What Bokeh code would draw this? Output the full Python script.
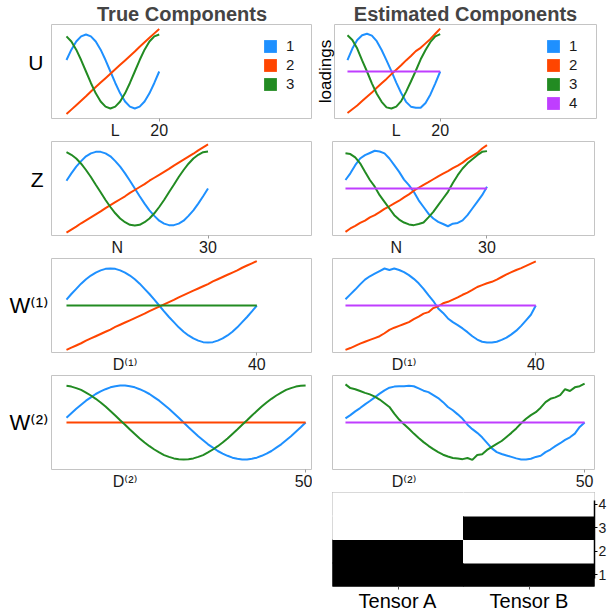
from bokeh.plotting import figure
from bokeh.layouts import column, row
from bokeh.models import (Range1d, FixedTicker, Legend, LegendItem,
                          ColumnDataSource, Spacer, FactorRange)
from bokeh.core.properties import value
from bokeh.embed import file_html
from bokeh.resources import INLINE

# ---------------- data ----------------
L_idx = list(range(1, 21))
N_idx = list(range(1, 31))
D1_idx = list(range(1, 41))
D2_idx = list(range(1, 51))

U_true_1 = [0.31, 0.59, 0.81, 0.95, 1.00, 0.95, 0.81, 0.59, 0.31, 0.00, -0.31, -0.59, -0.81, -0.95, -1.00, -0.95, -0.81, -0.59, -0.31, 0.00]
U_true_2 = [-1.15, -1.03, -0.91, -0.79, -0.67, -0.54, -0.42, -0.30, -0.18, -0.06, 0.06, 0.18, 0.30, 0.42, 0.54, 0.67, 0.79, 0.91, 1.03, 1.15]
U_true_3 = [0.95, 0.81, 0.59, 0.31, 0.00, -0.31, -0.59, -0.81, -0.95, -1.00, -0.95, -0.81, -0.59, -0.31, 0.00, 0.31, 0.59, 0.81, 0.95, 1.00]

Z_true_1 = [0.21, 0.41, 0.59, 0.74, 0.87, 0.95, 0.99, 0.99, 0.95, 0.87, 0.74, 0.59, 0.41, 0.21, 0.00, -0.21, -0.41, -0.59, -0.74, -0.87, -0.95, -0.99, -0.99, -0.95, -0.87, -0.74, -0.59, -0.41, -0.21, 0.00]
Z_true_2 = [-1.19, -1.11, -1.03, -0.94, -0.86, -0.78, -0.70, -0.62, -0.53, -0.45, -0.37, -0.29, -0.21, -0.12, -0.04, 0.04, 0.12, 0.21, 0.29, 0.37, 0.45, 0.53, 0.62, 0.70, 0.78, 0.86, 0.94, 1.03, 1.11, 1.19]
Z_true_3 = [0.98, 0.91, 0.81, 0.67, 0.50, 0.31, 0.10, -0.10, -0.31, -0.50, -0.67, -0.81, -0.91, -0.98, -1.00, -0.98, -0.91, -0.81, -0.67, -0.50, -0.31, -0.10, 0.10, 0.31, 0.50, 0.67, 0.81, 0.91, 0.98, 1.00]

W1_true_1 = [0.16, 0.31, 0.45, 0.59, 0.71, 0.81, 0.89, 0.95, 0.99, 1.00, 0.99, 0.95, 0.89, 0.81, 0.71, 0.59, 0.45, 0.31, 0.16, 0.00,
             -0.16, -0.31, -0.45, -0.59, -0.71, -0.81, -0.89, -0.95, -0.99, -1.00, -0.99, -0.95, -0.89, -0.81, -0.71, -0.59, -0.45, -0.31, -0.16, 0.00]
W1_true_2 = [-1.20, -1.14, -1.08, -1.02, -0.95, -0.89, -0.83, -0.77, -0.71, -0.65, -0.58, -0.52, -0.46, -0.40, -0.34, -0.28, -0.22, -0.15, -0.09, -0.03,
             0.03, 0.09, 0.15, 0.22, 0.28, 0.34, 0.40, 0.46, 0.52, 0.58, 0.65, 0.71, 0.77, 0.83, 0.89, 0.95, 1.02, 1.08, 1.14, 1.20]
W1_true_3 = [0.0, 0.0, 0.0, 0.0, 0.0, 0.0, 0.0, 0.0, 0.0, 0.0, 0.0, 0.0, 0.0, 0.0, 0.0, 0.0, 0.0, 0.0, 0.0, 0.0,
             0.0, 0.0, 0.0, 0.0, 0.0, 0.0, 0.0, 0.0, 0.0, 0.0, 0.0, 0.0, 0.0, 0.0, 0.0, 0.0, 0.0, 0.0, 0.0, 0.0]

W2_true_1 = [0.13, 0.25, 0.37, 0.48, 0.59, 0.68, 0.77, 0.84, 0.90, 0.95, 0.98, 1.00, 1.00, 0.98, 0.95, 0.90, 0.84, 0.77, 0.68, 0.59, 0.48, 0.37, 0.25, 0.13, 0.00,
             -0.13, -0.25, -0.37, -0.48, -0.59, -0.68, -0.77, -0.84, -0.90, -0.95, -0.98, -1.00, -1.00, -0.98, -0.95, -0.90, -0.84, -0.77, -0.68, -0.59, -0.48, -0.37, -0.25, -0.13, 0.00]
W2_true_2 = [0.0, 0.0, 0.0, 0.0, 0.0, 0.0, 0.0, 0.0, 0.0, 0.0, 0.0, 0.0, 0.0, 0.0, 0.0, 0.0, 0.0, 0.0, 0.0, 0.0, 0.0, 0.0, 0.0, 0.0, 0.0,
             0.0, 0.0, 0.0, 0.0, 0.0, 0.0, 0.0, 0.0, 0.0, 0.0, 0.0, 0.0, 0.0, 0.0, 0.0, 0.0, 0.0, 0.0, 0.0, 0.0, 0.0, 0.0, 0.0, 0.0, 0.0]
W2_true_3 = [0.99, 0.97, 0.93, 0.88, 0.81, 0.73, 0.64, 0.54, 0.43, 0.31, 0.19, 0.06, -0.06, -0.19, -0.31, -0.43, -0.54, -0.64, -0.73, -0.81, -0.88, -0.93, -0.97, -0.99, -1.00,
             -0.99, -0.97, -0.93, -0.88, -0.81, -0.73, -0.64, -0.54, -0.43, -0.31, -0.19, -0.06, 0.06, 0.19, 0.31, 0.43, 0.54, 0.64, 0.73, 0.81, 0.88, 0.93, 0.97, 0.99, 1.00]

U_est_1 = [0.31, 0.62, 0.85, 0.98, 1.02, 0.97, 0.82, 0.58, 0.30, 0.01, -0.30, -0.58, -0.82, -0.95, -0.98, -0.98, -0.85, -0.62, -0.32, 0.00]
U_est_2 = [-1.12, -1.02, -0.92, -0.80, -0.68, -0.57, -0.44, -0.32, -0.20, -0.07, 0.05, 0.17, 0.30, 0.42, 0.55, 0.64, 0.76, 0.88, 1.02, 1.16]
U_est_3 = [0.98, 0.85, 0.62, 0.30, 0.00, -0.32, -0.60, -0.82, -0.97, -1.00, -0.95, -0.80, -0.55, -0.27, 0.02, 0.33, 0.58, 0.80, 0.95, 1.01]
U_est_4 = [0.0, 0.0, 0.0, 0.0, 0.0, 0.0, 0.0, 0.0, 0.0, 0.0, 0.0, 0.0, 0.0, 0.0, 0.0, 0.0, 0.0, 0.0, 0.0, 0.0]

Z_est_1 = [0.23, 0.41, 0.63, 0.81, 0.90, 0.96, 1.02, 1.00, 0.95, 0.81, 0.63, 0.45, 0.24, 0.09, -0.09, -0.32, -0.50, -0.68, -0.81, -0.90, -0.96, -1.02, -0.95, -0.93, -0.86, -0.72, -0.54, -0.36, -0.18, 0.05]
Z_est_2 = [-1.17, -1.08, -1.01, -0.93, -0.87, -0.78, -0.72, -0.64, -0.55, -0.48, -0.40, -0.33, -0.24, -0.16, -0.06, 0.02, 0.10, 0.17, 0.25, 0.33, 0.40, 0.47, 0.55, 0.62, 0.70, 0.80, 0.88, 0.96, 1.08, 1.17]
Z_est_3 = [0.95, 0.93, 0.84, 0.68, 0.45, 0.23, 0.05, -0.18, -0.36, -0.54, -0.72, -0.84, -0.92, -0.97, -0.99, -0.96, -0.92, -0.78, -0.63, -0.45, -0.27, -0.09, 0.15, 0.36, 0.54, 0.68, 0.79, 0.90, 0.99, 1.01]
Z_est_4 = [0.0, 0.0, 0.0, 0.0, 0.0, 0.0, 0.0, 0.0, 0.0, 0.0, 0.0, 0.0, 0.0, 0.0, 0.0, 0.0, 0.0, 0.0, 0.0, 0.0, 0.0, 0.0, 0.0, 0.0, 0.0, 0.0, 0.0, 0.0, 0.0, 0.0]

W1_est_1 = [0.17, 0.30, 0.43, 0.57, 0.70, 0.79, 0.86, 0.93, 1.00, 0.96, 1.00, 0.96, 0.90, 0.82, 0.72, 0.60, 0.45, 0.28, 0.12, -0.08,
            -0.20, -0.35, -0.45, -0.53, -0.62, -0.72, -0.83, -0.92, -0.98, -1.00, -1.00, -0.98, -0.93, -0.87, -0.78, -0.68, -0.55, -0.40, -0.25, 0.00]
W1_est_2 = [-1.20, -1.15, -1.09, -1.03, -0.98, -0.93, -0.88, -0.83, -0.75, -0.66, -0.60, -0.55, -0.50, -0.45, -0.37, -0.30, -0.22, -0.18, -0.07, -0.02,
            0.06, 0.10, 0.16, 0.22, 0.29, 0.35, 0.42, 0.50, 0.55, 0.60, 0.64, 0.70, 0.77, 0.84, 0.90, 0.96, 1.01, 1.07, 1.13, 1.19]
W1_est_4 = [0.0, 0.0, 0.0, 0.0, 0.0, 0.0, 0.0, 0.0, 0.0, 0.0, 0.0, 0.0, 0.0, 0.0, 0.0, 0.0, 0.0, 0.0, 0.0, 0.0,
            0.0, 0.0, 0.0, 0.0, 0.0, 0.0, 0.0, 0.0, 0.0, 0.0, 0.0, 0.0, 0.0, 0.0, 0.0, 0.0, 0.0, 0.0, 0.0, 0.0]

W2_est_1 = [0.11, 0.20, 0.30, 0.39, 0.49, 0.58, 0.68, 0.78, 0.87, 0.94, 0.97, 0.98, 0.98, 0.99, 0.98, 0.92, 0.86, 0.82, 0.74, 0.66, 0.55, 0.42, 0.33, 0.22, 0.10,
            -0.06, -0.18, -0.28, -0.40, -0.55, -0.70, -0.80, -0.85, -0.89, -0.93, -0.97, -1.00, -1.00, -0.98, -0.93, -0.90, -0.80, -0.73, -0.64, -0.56, -0.47, -0.40, -0.30, -0.12, 0.00]
W2_est_3 = [1.03, 0.93, 0.90, 0.85, 0.80, 0.76, 0.70, 0.62, 0.52, 0.42, 0.24, 0.08, -0.05, -0.17, -0.30, -0.42, -0.53, -0.63, -0.72, -0.80, -0.87, -0.92, -0.96, -0.97, -0.99,
            -0.96, -1.01, -0.88, -0.86, -0.74, -0.66, -0.58, -0.50, -0.39, -0.28, -0.16, -0.02, 0.10, 0.20, 0.28, 0.40, 0.55, 0.64, 0.68, 0.74, 0.90, 0.85, 0.95, 0.98, 1.05]
W2_est_4 = [0.0, 0.0, 0.0, 0.0, 0.0, 0.0, 0.0, 0.0, 0.0, 0.0, 0.0, 0.0, 0.0, 0.0, 0.0, 0.0, 0.0, 0.0, 0.0, 0.0, 0.0, 0.0, 0.0, 0.0, 0.0,
            0.0, 0.0, 0.0, 0.0, 0.0, 0.0, 0.0, 0.0, 0.0, 0.0, 0.0, 0.0, 0.0, 0.0, 0.0, 0.0, 0.0, 0.0, 0.0, 0.0, 0.0, 0.0, 0.0, 0.0, 0.0]

tensors = ["Tensor A", "Tensor B"]
components = [1, 2, 3, 4]
tensor_A_member = [1, 1, 0, 0]
tensor_B_member = [1, 0, 1, 0]

legend_true = ["1", "2", "3"]
legend_est = ["1", "2", "3", "4"]

titles = ["True Components", "Estimated Components"]
row_labels = ["U\n ", "Z\n ", "W\u207d\u00b9\u207e", "W\u207d\u00b2\u207e"]
dim_labels = ["L", "N", "D\u207d\u00b9\u207e", "D\u207d\u00b2\u207e"]
dim_sizes = [20, 30, 40, 50]
dim_label_pos = [11, 11.4, 13, 13]

# ---------------- style ----------------
FONT = "Liberation Sans, DejaVu Sans"
C1, C2, C3, C4 = "#1E90FF", "#FF4500", "#228B22", "#BF3EFF"
OUTLINE = "#c4c4c4"
NAN = float("nan")


def panel(left_col, top, k):
    common = dict(frame_height=94, toolbar_location=None, output_backend="svg",
                  min_border_top=top, min_border_bottom=22)
    if left_col:
        p = figure(frame_width=261, min_border_left=51, min_border_right=0,
                   x_range=Range1d(-2.07, 51.41), y_range=Range1d(-1.27, 1.27),
                   y_axis_location="left", **common)
    else:
        p = figure(frame_width=262, min_border_left=20, min_border_right=13,
                   x_range=Range1d(-1.66, 52.03), y_range=Range1d(-1.27, 1.27),
                   y_axis_location=("left" if k == 0 else None), **common)
    p.xgrid.visible = False
    p.ygrid.visible = False
    p.outline_line_color = OUTLINE
    p.outline_line_width = 1
    p.background_fill_color = "white"
    p.border_fill_color = "white"
    ax = p.xaxis[0]
    ax.ticker = FixedTicker(ticks=[dim_label_pos[k], dim_sizes[k]], minor_ticks=[dim_sizes[k]])
    ax.major_label_overrides = {dim_label_pos[k]: dim_labels[k], dim_sizes[k]: str(dim_sizes[k])}
    ax.axis_line_color = None
    ax.major_tick_in = 0
    ax.major_tick_out = 0
    ax.major_tick_line_color = None
    ax.minor_tick_in = 0
    ax.minor_tick_out = 3
    ax.minor_tick_line_color = "#9a9a9a"
    ax.major_label_text_font = FONT
    ax.major_label_text_font_size = "16px"
    ax.major_label_text_color = "#1a1a1a"
    ax.major_label_standoff = 0
    if p.yaxis:
        ya = p.yaxis[0]
        ya.ticker = FixedTicker(ticks=[])
        ya.axis_line_color = None
        ya.major_tick_in = 0
        ya.major_tick_out = 0
        ya.major_tick_line_color = None
        ya.minor_tick_line_color = None
        ya.major_label_standoff = 0
        ya.axis_label_text_font = FONT
        ya.axis_label_text_font_style = "normal"
        ya.axis_label_text_color = "black"
    if top > 1:
        p.title.text = titles[0 if left_col else 1]
        p.title.align = "center"
        p.title.text_font = FONT
        p.title.text_font_size = "20px"
        p.title.text_font_style = "bold"
        p.title.text_line_height = 0.9
        p.title.standoff = 0
    return p


def set_row_label(p, k):
    ya = p.yaxis[0]
    ya.axis_label = row_labels[k]
    ya.axis_label_orientation = "horizontal"
    if k < 2:
        ya.axis_label_text_font_size = "21px"
        ya.axis_label_text_line_height = 0.8
        ya.axis_label_standoff = 8
    else:
        ya.axis_label_text_font_size = "22px"
        ya.axis_label_standoff = 3


def add_legend(p, labels, colors, loc):
    items = []
    for t, c in zip(labels, colors):
        r = p.quad(left=[NAN], right=[NAN], top=[NAN], bottom=[NAN], fill_color=c, line_color=None)
        items.append(LegendItem(label=value(t), renderers=[r]))
    leg = Legend(items=items, location=loc, glyph_width=16, glyph_height=16,
                 label_height=16, label_width=10, spacing=2, padding=0, margin=0,
                 label_standoff=8, border_line_color=None, background_fill_alpha=0,
                 label_text_font=FONT, label_text_font_size="15px",
                 label_text_color="#1a1a1a")
    p.add_layout(leg, "center")


def lines(p, x, ys, colors):
    for y, c in zip(ys, colors):
        p.line(x, y, line_color=c, line_width=2)


# ---- row 1 : U ----
u_t = panel(True, 24, 0)
set_row_label(u_t, 0)
lines(u_t, L_idx, [U_true_1, U_true_2, U_true_3], [C1, C2, C3])
add_legend(u_t, legend_true, [C1, C2, C3], (211, 26))

u_e = panel(False, 24, 0)
u_e.yaxis[0].axis_label = "loadings"
u_e.yaxis[0].axis_label_text_font_size = "17px"
u_e.yaxis[0].axis_label_standoff = 0
lines(u_e, L_idx, [U_est_1, U_est_2, U_est_3, U_est_4], [C1, C2, C3, C4])
add_legend(u_e, legend_est, [C1, C2, C3, C4], (211, 7))

# ---- row 2 : Z ----
z_t = panel(True, 0, 1)
set_row_label(z_t, 1)
lines(z_t, N_idx, [Z_true_1, Z_true_2, Z_true_3], [C1, C2, C3])

z_e = panel(False, 0, 1)
lines(z_e, N_idx, [Z_est_1, Z_est_2, Z_est_3, Z_est_4], [C1, C2, C3, C4])

# ---- row 3 : W(1) ----
w1_t = panel(True, 0, 2)
set_row_label(w1_t, 2)
lines(w1_t, D1_idx, [W1_true_1, W1_true_2, W1_true_3], [C1, C2, C3])

w1_e = panel(False, 0, 2)
lines(w1_e, D1_idx, [W1_est_1, W1_est_2, W1_est_4], [C1, C2, C4])

# ---- row 4 : W(2) ----
w2_t = panel(True, 0, 3)
set_row_label(w2_t, 3)
lines(w2_t, D2_idx, [W2_true_1, W2_true_2, W2_true_3], [C1, C2, C3])

w2_e = panel(False, 0, 3)
lines(w2_e, D2_idx, [W2_est_1, W2_est_3, W2_est_4], [C1, C3, C4])

# ---- row 5 : heatmap ----
hx, hy, hc = [], [], []
for t, mem in zip(tensors, [tensor_A_member, tensor_B_member]):
    for comp, m in zip(components, mem):
        hx.append(t)
        hy.append(comp)
        hc.append("black" if m else "white")
src = ColumnDataSource(dict(t=hx, c=hy, color=hc))

hm = figure(x_range=FactorRange(factors=tensors), y_range=Range1d(0.5, 4.5),
            frame_width=262, frame_height=94, min_border_left=20, min_border_right=13,
            min_border_top=0, min_border_bottom=24, y_axis_location="right",
            toolbar_location=None, output_backend="svg")
hm.rect(x="t", y="c", width=1, height=1, fill_color="color", line_color="color", source=src)
hm.xgrid.visible = False
hm.ygrid.visible = False
hm.outline_line_color = "#9a9a9a"
hm.border_fill_color = "white"
ya = hm.yaxis[0]
ya.ticker = FixedTicker(ticks=components)
ya.bounds = (0.85, 4.15)
ya.axis_line_color = "black"
ya.axis_line_width = 1.5
ya.major_tick_in = 0
ya.major_tick_out = 3
ya.minor_tick_line_color = None
ya.major_label_text_font = FONT
ya.major_label_text_font_size = "14px"
ya.major_label_text_color = "#1a1a1a"
ya.major_label_standoff = 1
xa = hm.xaxis[0]
xa.axis_line_color = None
xa.major_tick_in = 0
xa.major_tick_out = 3
xa.major_tick_line_color = "#555555"
xa.major_label_text_font = FONT
xa.major_label_text_font_size = "20px"
xa.major_label_text_color = "black"
xa.major_label_standoff = 0

spacer = Spacer(width=312, height=100)

layout = column(
    row(u_t, u_e),
    row(z_t, z_e),
    row(w1_t, w1_e),
    row(w2_t, w2_e),
    row(spacer, hm),
)

open("out.html", "w").write(file_html(layout, INLINE))
